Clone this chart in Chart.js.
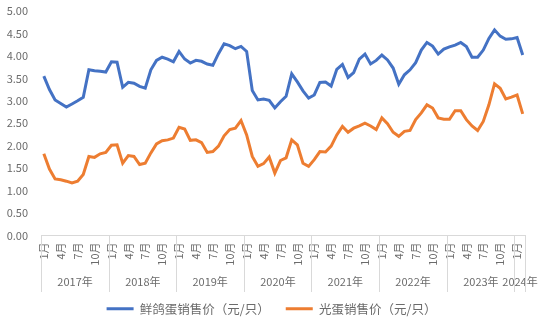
<!DOCTYPE html>
<html>
<head>
<meta charset="utf-8">
<script src="https://cdn.jsdelivr.net/npm/chart.js@4.4.1/dist/chart.umd.min.js"></script>
<style>
    html, body { margin: 0; padding: 0; background: #fff; }
    #wrap { width: 543px; height: 323px; position: relative; }
</style>
</head>
<body>
<div id="wrap"><canvas id="eggChart"></canvas></div>
<script>
// Monthly prices, 2017-01 .. 2024-02
const years = ['2017年', '2018年', '2019年', '2020年', '2021年', '2022年', '2023年', '2024年'];
const monthsPerYear = [12, 12, 12, 12, 12, 12, 12, 2];
const shownMonths = [1, 4, 7, 10];

const pigeonEgg = [
    3.55, 3.25, 3.02, 2.94, 2.86, 2.93, 3.00, 3.08, 3.69, 3.67, 3.66, 3.64,
    3.87, 3.86, 3.30, 3.41, 3.39, 3.32, 3.28, 3.69, 3.90, 3.97, 3.93, 3.87,
    4.10, 3.93, 3.84, 3.90, 3.88, 3.82, 3.79, 4.05, 4.27, 4.23, 4.16, 4.21,
    4.10, 3.23, 3.02, 3.04, 3.01, 2.84, 2.98, 3.10, 3.60, 3.42, 3.22, 3.06,
    3.13, 3.41, 3.42, 3.33, 3.70, 3.81, 3.52, 3.63, 3.93, 4.04, 3.82, 3.90,
    4.02, 3.91, 3.73, 3.37, 3.58, 3.69, 3.85, 4.13, 4.30, 4.22, 4.04, 4.15,
    4.20, 4.24, 4.30, 4.21, 3.97, 3.97, 4.13, 4.39, 4.58, 4.44, 4.37, 4.38,
    4.41, 4.02
];

const plainEgg = [
    1.82, 1.48, 1.26, 1.24, 1.21, 1.17, 1.21, 1.36, 1.76, 1.74, 1.82, 1.85,
    2.01, 2.02, 1.61, 1.78, 1.76, 1.58, 1.61, 1.84, 2.04, 2.11, 2.13, 2.17,
    2.41, 2.37, 2.12, 2.13, 2.07, 1.85, 1.87, 1.99, 2.22, 2.36, 2.39, 2.56,
    2.24, 1.76, 1.54, 1.60, 1.75, 1.39, 1.67, 1.73, 2.13, 2.02, 1.61, 1.54,
    1.69, 1.87, 1.86, 1.99, 2.24, 2.43, 2.30, 2.39, 2.44, 2.50, 2.44, 2.36,
    2.62, 2.49, 2.30, 2.21, 2.32, 2.34, 2.58, 2.73, 2.91, 2.84, 2.62, 2.59,
    2.59, 2.78, 2.78, 2.58, 2.44, 2.34, 2.54, 2.91, 3.38, 3.28, 3.04, 3.08,
    3.13, 2.71
];

const FONT = "'Noto Sans CJK SC', 'Noto Sans', sans-serif";
const TEXT = '#6b6b6b';
const RULE = '#d9d9d9';

// one category per month, plus the month number for the tick callback
const categories = [];
const monthOf = [];
years.forEach((y, k) => {
    for (let m = 1; m <= monthsPerYear[k]; m++) {
        categories.push(y + m + '月');
        monthOf.push(m);
    }
});

// second row of the category axis: year names between separator rules
const yearBands = {
    id: 'yearBands',
    afterLayout(chart) {
        // centre the legend on the whole canvas, not on the padded area
        if (chart.legend) chart.legend.left += 15;
    },
    afterDraw(chart) {
        const xs = chart.scales.x;
        const ctx = chart.ctx;
        const half = (xs.getPixelForValue(1) - xs.getPixelForValue(0)) / 2;
        const top = xs.top;
        const bottom = 292;
        ctx.save();
        ctx.strokeStyle = RULE;
        ctx.lineWidth = 1;
        ctx.fillStyle = TEXT;
        ctx.font = '11px ' + FONT;
        ctx.textAlign = 'center';
        ctx.textBaseline = 'middle';
        let start = 0;
        years.forEach((y, k) => {
            const end = start + monthsPerYear[k] - 1;
            const x0 = Math.round(xs.getPixelForValue(start) - half) + 0.5;
            const x1 = xs.getPixelForValue(end) + half;
            ctx.beginPath();
            ctx.moveTo(x0, top);
            ctx.lineTo(x0, bottom);
            ctx.stroke();
            ctx.fillText(y, (x0 + x1) / 2, 282);
            start = end + 1;
        });
        const xr = Math.round(xs.getPixelForValue(start - 1) + half) - 0.5;
        ctx.beginPath();
        ctx.moveTo(xr, top);
        ctx.lineTo(xr, bottom);
        ctx.stroke();
        ctx.restore();
    }
};

new Chart(document.getElementById('eggChart'), {
    type: 'line',
    data: {
        labels: categories,
        datasets: [
            {
                label: '鲜鸽蛋销售价（元/只）',
                data: pigeonEgg,
                borderColor: '#4472C4',
                backgroundColor: '#4472C4',
                borderWidth: 3,
                pointRadius: 0,
                tension: 0
            },
            {
                label: '光蛋销售价（元/只）',
                data: plainEgg,
                borderColor: '#ED7D31',
                backgroundColor: '#ED7D31',
                borderWidth: 3,
                pointRadius: 0,
                tension: 0
            }
        ]
    },
    options: {
        responsive: true,
        maintainAspectRatio: false,
        animation: false,
        layout: { padding: { left: 0, right: 15, top: 11, bottom: -2 } },
        plugins: {
            tooltip: { enabled: false },
            legend: {
                position: 'bottom',
                labels: {
                    usePointStyle: true,
                    pointStyle: 'line',
                    pointStyleWidth: 27,
                    padding: 16,
                    color: TEXT,
                    font: { family: FONT, size: 12.5 }
                }
            }
        },
        scales: {
            x: {
                offset: true,
                grid: { display: false, drawTicks: false },
                border: { display: true, color: RULE, width: 1 },
                afterFit(scale) { scale.height = 51; },
                ticks: {
                    autoSkip: false,
                    minRotation: 90,
                    maxRotation: 90,
                    padding: 7,
                    color: TEXT,
                    font: { family: FONT, size: 11 },
                    callback: (v, i) => shownMonths.includes(monthOf[i]) ? monthOf[i] + '月' : ''
                }
            },
            y: {
                min: 0,
                max: 5,
                grid: { display: false, drawTicks: false },
                border: { display: false },
                afterFit(scale) {
                    scale.width = 41;
                    // keep the label padding from pushing the plot top down
                    scale.paddingTop = 0;
                    scale.paddingBottom = 0;
                },
                ticks: {
                    stepSize: 0.5,
                    padding: 13,
                    color: TEXT,
                    font: { family: FONT, size: 11 },
                    callback: v => v.toFixed(2)
                }
            }
        }
    },
    plugins: [yearBands]
});
</script>
</body>
</html>
